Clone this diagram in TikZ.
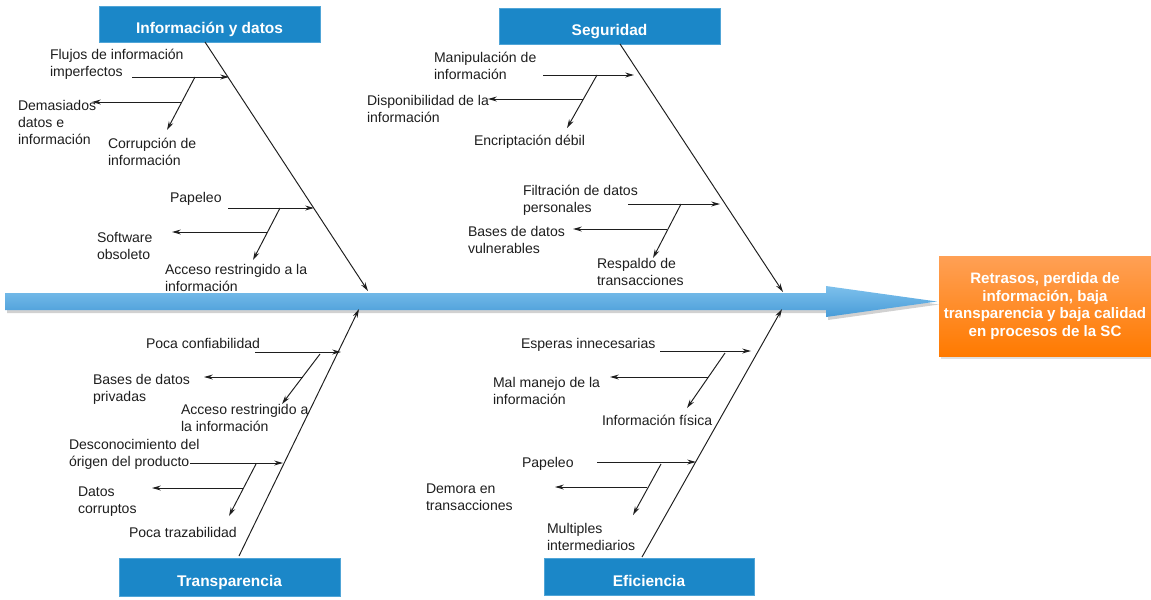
\documentclass[tikz,border=0pt]{standalone}
\usepackage{fontspec}
\setmainfont{Liberation Sans}
\usetikzlibrary{arrows.meta,shadows}
\definecolor{boxblue}{RGB}{27,135,200}
\definecolor{boxedge}{RGB}{80,165,215}
\definecolor{arrtop}{RGB}{125,192,236}
\definecolor{arrbot}{RGB}{72,156,216}
\definecolor{orgtop}{RGB}{255,160,85}
\definecolor{orgbot}{RGB}{255,122,0}
\definecolor{ink}{RGB}{30,30,30}
\tikzset{
  lbl/.style={anchor=base west, align=left, inner sep=0pt, outer sep=0pt,
    text=ink, font=\fontsize{8}{9.6}\selectfont},
  cat/.style={fill=boxblue, draw=boxedge, line width=0.4pt, text=white,
    inner sep=0pt, outer sep=0pt, text height=2.1ex, text depth=0pt,
    font=\fontsize{8.8}{10}\selectfont\bfseries},
  bone/.style={draw=ink, line width=0.55pt, -{Stealth[length=5pt,width=2.8pt]}},
}
\begin{document}
\begin{tikzpicture}[x=0.02cm,y=-0.02cm]
\useasboundingbox (0,0) rectangle (1151,599);

% ---------- main arrow ----------
\fill[black,opacity=0.18] (7,296) -- (828,296) -- (828,289) -- (939,304.5) -- (828,320) -- (828,313) -- (7,313) -- cycle;
\shade[top color=arrtop, bottom color=arrbot]
  (5,293) -- (826,293) -- (826,286) -- (937,301.5) -- (826,317) -- (826,310) -- (5,310) -- cycle;

% ---------- effect box ----------
\node[draw=none, top color=orgtop, bottom color=orgbot, minimum width=4.24cm, minimum height=2cm,
  inner sep=0pt, outer sep=0pt, text=white, align=center,
  drop shadow={opacity=0.25, shadow xshift=1pt, shadow yshift=-1.5pt},
  font=\fontsize{8.6}{9.9}\selectfont\bfseries] (effect) at (1045,306)
  {Retrasos, perdida de\\información, baja\\transparencia y baja calidad\\en procesos de la SC};

% ---------- category boxes ----------
\node[cat, minimum width=4.42cm, minimum height=0.72cm] (info) at (209.5,24) {Información y datos};
\node[cat, minimum width=4.42cm, minimum height=0.72cm] (segu) at (609.5,26) {Seguridad};
\node[cat, minimum width=4.42cm, minimum height=0.76cm] (trans) at (229.5,577) {Transparencia};
\node[cat, minimum width=4.20cm, minimum height=0.74cm] (efic) at (649,576.5) {Eficiencia};

% ---------- Información y datos ----------
\coordinate (Ia) at (205,42); \coordinate (Ib) at (368,291);
\draw[bone] (Ia) -- (Ib);
\coordinate (I1s) at (132,77); \coordinate (I1e) at (229,77);
\coordinate (I1as) at (195,77); \coordinate (I1ae) at (167,130);
\coordinate (I1bs) at (181,102); \coordinate (I1be) at (92,102);
\draw[bone] (I1s) -- (I1e);
\draw[bone] (I1as) -- (I1ae);
\draw[bone] (I1bs) -- (I1be);
\coordinate (I2s) at (228,208); \coordinate (I2e) at (314,208);
\coordinate (I2as) at (280,208); \coordinate (I2ae) at (253,260);
\coordinate (I2bs) at (267,232); \coordinate (I2be) at (172,232);
\draw[bone] (I2s) -- (I2e);
\draw[bone] (I2as) -- (I2ae);
\draw[bone] (I2bs) -- (I2be);
\node[lbl] (tI1) at (50,76) {Flujos de información\\imperfectos};
\node[lbl] (tI1b) at (18,144) {Demasiados\\datos e\\información};
\node[lbl] (tI1a) at (108,165) {Corrupción de\\información};
\node[lbl] (tI2) at (170,202) {Papeleo};
\node[lbl] (tI2b) at (97,259) {Software\\obsoleto};
\node[lbl] (tI2a) at (165,291) {Acceso restringido a la\\información};

% ---------- Seguridad ----------
\coordinate (Sa) at (620,44); \coordinate (Sb) at (783,292);
\draw[bone] (Sa) -- (Sb);
\coordinate (S1s) at (543,75); \coordinate (S1e) at (634,75);
\coordinate (S1as) at (597,75); \coordinate (S1ae) at (567,128);
\coordinate (S1bs) at (583,99); \coordinate (S1be) at (488,99);
\draw[bone] (S1s) -- (S1e);
\draw[bone] (S1as) -- (S1ae);
\draw[bone] (S1bs) -- (S1be);
\coordinate (S2s) at (628,204); \coordinate (S2e) at (720,204);
\coordinate (S2as) at (681,204); \coordinate (S2ae) at (653,258);
\coordinate (S2bs) at (667,229); \coordinate (S2be) at (573,229);
\draw[bone] (S2s) -- (S2e);
\draw[bone] (S2as) -- (S2ae);
\draw[bone] (S2bs) -- (S2be);
\node[lbl] (tS1) at (434,79) {Manipulación de\\información};
\node[lbl] (tS1b) at (367,122) {Disponibilidad de la\\información};
\node[lbl] (tS1a) at (474,145) {Encriptación débil};
\node[lbl] (tS2) at (523,212) {Filtración de datos\\personales};
\node[lbl] (tS2b) at (468,253) {Bases de datos\\vulnerables};
\node[lbl] (tS2a) at (597,285) {Respaldo de\\transacciones};

% ---------- Transparencia ----------
\coordinate (Ta) at (239,556); \coordinate (Tb) at (359,309);
\draw[bone] (Ta) -- (Tb);
\coordinate (T1s) at (255,352); \coordinate (T1e) at (341,352);
\coordinate (T1as) at (320,354); \coordinate (T1ae) at (282,404);
\coordinate (T1bs) at (303,377); \coordinate (T1be) at (204,377);
\draw[bone] (T1s) -- (T1e);
\draw[bone] (T1as) -- (T1ae);
\draw[bone] (T1bs) -- (T1be);
\coordinate (T2s) at (190,463); \coordinate (T2e) at (283,463);
\coordinate (T2as) at (256,464); \coordinate (T2ae) at (229,516);
\coordinate (T2bs) at (243,488); \coordinate (T2be) at (152,488);
\draw[bone] (T2s) -- (T2e);
\draw[bone] (T2as) -- (T2ae);
\draw[bone] (T2bs) -- (T2be);
\node[lbl] (tT1) at (146,348) {Poca confiabilidad};
\node[lbl] (tT1b) at (93,401) {Bases de datos\\privadas};
\node[lbl] (tT1a) at (181,431) {Acceso restringido a\\la información};
\node[lbl] (tT2) at (69,466) {Desconocimiento del\\órigen del producto};
\node[lbl] (tT2b) at (78,513) {Datos\\corruptos};
\node[lbl] (tT2a) at (129,537) {Poca trazabilidad};

% ---------- Eficiencia ----------
\coordinate (Ea) at (642,557); \coordinate (Eb) at (782,309);
\draw[bone] (Ea) -- (Eb);
\coordinate (E1s) at (660,351); \coordinate (E1e) at (751,351);
\coordinate (E1as) at (725,353); \coordinate (E1ae) at (687,408);
\coordinate (E1bs) at (708,377); \coordinate (E1be) at (610,377);
\draw[bone] (E1s) -- (E1e);
\draw[bone] (E1as) -- (E1ae);
\draw[bone] (E1bs) -- (E1be);
\coordinate (E2s) at (597,462); \coordinate (E2e) at (696,462);
\coordinate (E2as) at (661,464); \coordinate (E2ae) at (633,515);
\coordinate (E2bs) at (647,487); \coordinate (E2be) at (555,487);
\draw[bone] (E2s) -- (E2e);
\draw[bone] (E2as) -- (E2ae);
\draw[bone] (E2bs) -- (E2be);
\node[lbl] (tE1) at (521,348) {Esperas innecesarias};
\node[lbl] (tE1b) at (493,404) {Mal manejo de la\\información};
\node[lbl] (tE1a) at (602,425) {Información física};
\node[lbl] (tE2) at (522,467) {Papeleo};
\node[lbl] (tE2b) at (426,510) {Demora en\\transacciones};
\node[lbl] (tE2a) at (547,550) {Multiples\\intermediarios};
\end{tikzpicture}
\end{document}
